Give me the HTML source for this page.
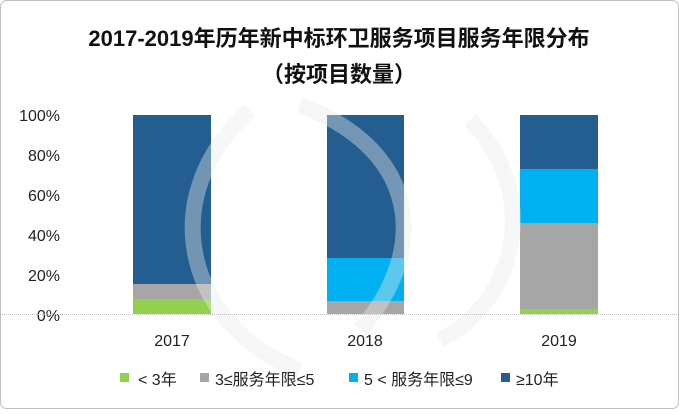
<!DOCTYPE html>
<html><head><meta charset="utf-8"><style>
body{margin:0;width:679px;height:409px;overflow:hidden;background:#fff}
text{font-family:"Liberation Sans","Noto Sans CJK SC",sans-serif}
</style></head><body>
<svg width="679" height="409" viewBox="0 0 679 409" xmlns="http://www.w3.org/2000/svg">
<rect x="0.5" y="0.5" width="678" height="408" rx="6" fill="#fff" stroke="#bfbfbf"/>
<text x="339" y="46" text-anchor="middle" font-size="22" font-weight="bold" fill="#111">2017-2019年历年新中标环卫服务项目服务年限分布</text>
<text x="339" y="82" text-anchor="middle" font-size="22" font-weight="bold" fill="#111">（按项目数量）</text>
<g font-size="16" fill="#222" text-anchor="end">
<text x="60" y="121">100%</text><text x="60" y="161">80%</text><text x="60" y="201">60%</text>
<text x="60" y="241">40%</text><text x="60" y="281">20%</text><text x="60" y="321">0%</text>
</g>
<rect x="133" y="115" width="78" height="169" fill="#245d8f"/>
<rect x="133" y="284" width="78" height="15" fill="#a6a6a6"/>
<rect x="133" y="299" width="78" height="15" fill="#92d050"/>
<rect x="327" y="115" width="77" height="143" fill="#245d8f"/>
<rect x="327" y="258" width="77" height="43" fill="#00b0f0"/>
<rect x="327" y="301" width="77" height="13" fill="#a6a6a6"/>
<rect x="520" y="115" width="78" height="54" fill="#245d8f"/>
<rect x="520" y="169" width="78" height="54" fill="#00b0f0"/>
<rect x="520" y="223" width="78" height="86" fill="#a6a6a6"/>
<rect x="520" y="309" width="78" height="5" fill="#92d050"/>
<g fill="none" stroke="#e8ecec" stroke-width="16" opacity="0.4">
<path d="M250 110 C150 200 190 330 300 370"/>
<path d="M300 105 C420 150 430 250 360 330"/>
<path d="M470 120 C540 190 520 300 440 340"/>
</g>
<line x1="0" y1="314.5" x2="679" y2="314.5" stroke="#bfbfbf" stroke-dasharray="1 1"/>
<g font-size="16" fill="#222" text-anchor="middle">
<text x="172" y="346">2017</text><text x="365" y="346">2018</text><text x="559" y="346">2019</text>
</g>
<g font-size="16" fill="#222">
<rect x="120" y="373" width="9" height="9" fill="#92d050"/><text x="138" y="385">&lt; 3年</text>
<rect x="200" y="373" width="9" height="9" fill="#a6a6a6"/><text x="215" y="385">3≤服务年限≤5</text>
<rect x="349" y="373" width="9" height="9" fill="#00b0f0"/><text x="364" y="385">5 &lt; 服务年限≤9</text>
<rect x="501" y="373" width="9" height="9" fill="#245d8f"/><text x="516" y="385">≥10年</text>
</g>
</svg>
</body></html>
